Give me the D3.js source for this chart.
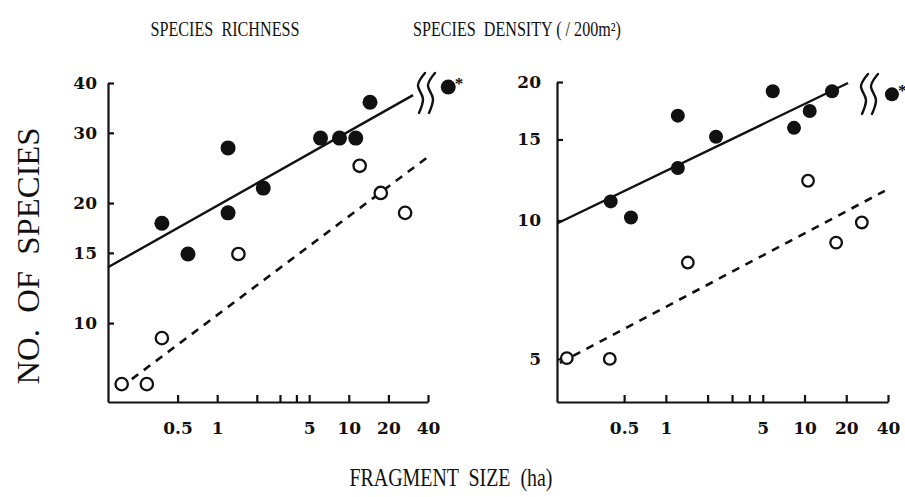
<!DOCTYPE html>
<html>
<head>
<meta charset="utf-8">
<script src="https://cdn.jsdelivr.net/npm/d3@7"></script>
<style>
  body { margin: 0; background: #fff; }
  text { font-family: "Liberation Serif", "Times New Roman", serif; fill: #111; white-space: pre; }
</style>
</head>
<body>
<div id="chart"></div>
<script>
// values (fragment size in ha, number of species)
var richFilledX = [0.38, 0.60, 1.21, 1.21, 2.24, 6.1, 8.5, 11.3, 14.5];
var richFilledY = [17.8, 14.9, 27.5, 18.9, 21.8, 29.1, 29.1, 29.1, 35.8];
var richOpenX = [0.188, 0.292, 0.38, 1.45, 12.1, 17.5, 26.8];
var richOpenY = [7.03, 7.03, 9.17, 14.9, 24.8, 21.2, 18.9];
var richOutlier = [57, 39.1];
var richSolidLine = [[0.148, 13.8], [30.8, 37.3]];
var richDashedLine = [[0.182, 6.87], [40, 26.1]];

var densFilledX = [0.40, 0.56, 1.22, 1.22, 2.3, 5.9, 8.4, 10.9, 15.8];
var densFilledY = [11.0, 10.15, 16.9, 13.0, 15.2, 19.1, 15.9, 17.3, 19.1];
var densOpenX = [0.193, 0.394, 1.44, 10.6, 16.9, 25.9];
var densOpenY = [5.02, 5.0, 8.1, 12.2, 8.95, 9.9];
var densOutlier = [42.7, 18.8];
var densSolidLine = [[0.164, 9.85], [20.6, 19.9]];
var densDashedLine = [[0.172, 4.9], [38, 11.6]];

var xTicks = [0.5, 1, 2, 3, 4, 5, 10, 20, 40];
var xTickLabels = [0.5, 1, 5, 10, 20, 40];
var richYTicks = [10, 15, 20, 30, 40];
var densYTicks = [5, 10, 15, 20];

var svg = d3.select("#chart")
  .append("svg")
  .attr("width", 905)
  .attr("height", 497);

function drawPanel(p) {
  var x = d3.scaleLog().domain(p.xDomain).range([p.left, p.right]);
  var y = d3.scaleLog().domain(p.yDomain).range([p.bottom, p.top]);
  var g = svg.append("g");

  // axes, ticks pointing inward
  var xAxis = g.append("g")
    .attr("transform", "translate(0," + p.bottom + ")")
    .call(d3.axisBottom(x).tickValues(xTicks).tickSize(-7).tickSizeOuter(0).tickPadding(20)
      .tickFormat(function (d) { return xTickLabels.indexOf(d) >= 0 ? d : ""; }));
  var yAxis = g.append("g")
    .attr("transform", "translate(" + p.left + ",0)")
    .call(d3.axisLeft(y).tickValues(p.yTicks).tickSize(-6).tickSizeOuter(0).tickPadding(p.yPad)
      .tickFormat(function (d) { return d; }));
  [xAxis, yAxis].forEach(function (a) {
    a.selectAll("path, line").attr("stroke", "#111").attr("stroke-width", 2.2);
    a.selectAll("text")
      .style("font-family", "'DejaVu Serif', serif")
      .style("font-size", "17px")
      .style("font-weight", "bold")
      .attr("fill", "#111");
  });

  var line = d3.line()
    .x(function (d) { return x(d[0]); })
    .y(function (d) { return y(d[1]); });

  g.append("path").datum(p.solid)
    .attr("d", line).attr("fill", "none")
    .attr("stroke", "#111").attr("stroke-width", 2.4);
  g.append("path").datum(p.dashed)
    .attr("d", line).attr("fill", "none")
    .attr("stroke", "#111").attr("stroke-width", 2.6)
    .attr("stroke-dasharray", "8,7");

  g.selectAll(".open").data(p.openX).enter().append("circle")
    .attr("cx", function (d) { return x(d); })
    .attr("cy", function (d, i) { return y(p.openY[i]); })
    .attr("r", p.rOpen)
    .attr("fill", "#fff").attr("stroke", "#111").attr("stroke-width", 2.3);

  g.selectAll(".filled").data(p.filledX).enter().append("circle")
    .attr("cx", function (d) { return x(d); })
    .attr("cy", function (d, i) { return y(p.filledY[i]); })
    .attr("r", p.rFilled)
    .attr("fill", "#111");

  // outlier beyond the axis break
  g.append("circle")
    .attr("cx", x(p.outlier[0])).attr("cy", y(p.outlier[1]))
    .attr("r", p.rFilled).attr("fill", "#111");
  g.append("text")
    .attr("x", x(p.outlier[0]) + p.rFilled - 1)
    .attr("y", y(p.outlier[1]) + 2)
    .style("font-size", "17px").style("font-weight", "bold")
    .text("*");

  // break marks
  var wave = d3.line().curve(d3.curveCatmullRom);
  [0, 10].forEach(function (off) {
    var bx = p.breakX + off, by = p.breakTop;
    g.append("path")
      .attr("d", wave([[bx + 5, by], [bx - 2, by + 12], [bx + 3, by + 26], [bx - 1, by + 40]]))
      .attr("fill", "none").attr("stroke", "#111").attr("stroke-width", 2.4)
      .attr("stroke-linecap", "round");
  });

  svg.append("text")
    .attr("x", p.titleX).attr("y", 36)
    .attr("text-anchor", "middle")
    .style("font-size", "20px")
    .attr("textLength", p.titleW).attr("lengthAdjust", "spacingAndGlyphs")
    .text(p.title);
}

drawPanel({
  xDomain: [0.148, 40], yDomain: [6.34, 40],
  left: 108, right: 428, top: 83, bottom: 402,
  yTicks: richYTicks, yPad: 11,
  filledX: richFilledX, filledY: richFilledY,
  openX: richOpenX, openY: richOpenY, outlier: richOutlier,
  solid: richSolidLine, dashed: richDashedLine,
  rFilled: 7.5, rOpen: 6.2,
  breakX: 420, breakTop: 73,
  title: "SPECIES  RICHNESS", titleX: 225, titleW: 149
});

drawPanel({
  xDomain: [0.164, 40], yDomain: [4.03, 20],
  left: 557, right: 888, top: 82, bottom: 402,
  yTicks: densYTicks, yPad: 16,
  filledX: densFilledX, filledY: densFilledY,
  openX: densOpenX, openY: densOpenY, outlier: densOutlier,
  solid: densSolidLine, dashed: densDashedLine,
  rFilled: 7, rOpen: 5.8,
  breakX: 863, breakTop: 74,
  title: "SPECIES  DENSITY ( / 200m²)", titleX: 517, titleW: 208
});

// shared axis titles
svg.append("text")
  .attr("transform", "translate(39,256) rotate(-90)")
  .attr("text-anchor", "middle")
  .style("font-size", "31px")
  .attr("textLength", 257).attr("lengthAdjust", "spacingAndGlyphs")
  .text("NO.  OF  SPECIES");

svg.append("text")
  .attr("x", 451).attr("y", 486)
  .attr("text-anchor", "middle")
  .style("font-size", "26px")
  .attr("textLength", 203).attr("lengthAdjust", "spacingAndGlyphs")
  .text("FRAGMENT  SIZE  (ha)");
</script>
</body>
</html>
